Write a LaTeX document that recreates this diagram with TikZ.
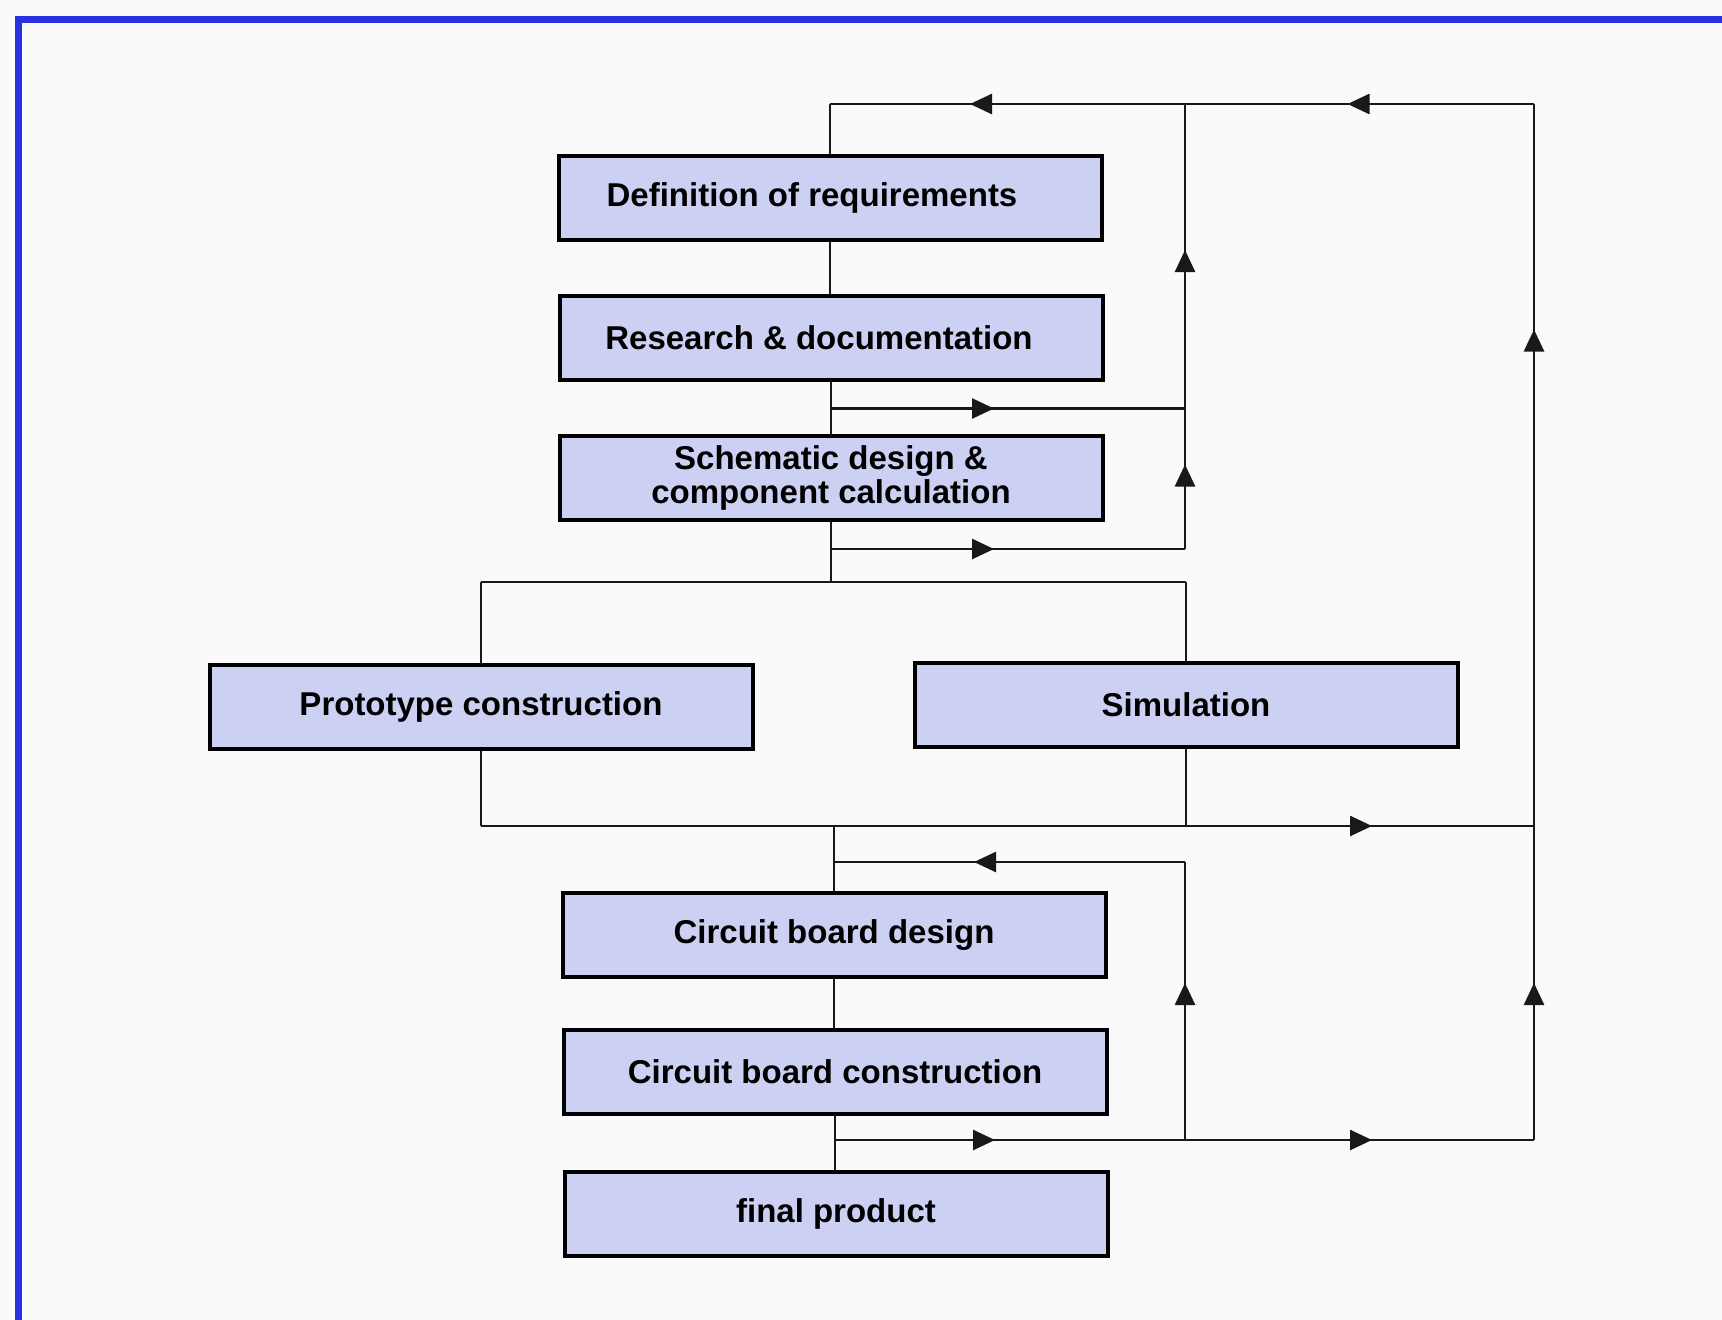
\documentclass[tikz,border=0pt]{standalone}
\usepackage{fontspec}
\setmainfont{Liberation Sans}
\usetikzlibrary{arrows.meta,decorations.markings}
\definecolor{boxfill}{RGB}{204,208,242}
\definecolor{frameblue}{RGB}{40,50,225}
\definecolor{paper}{RGB}{250,250,250}
\tikzset{
  stage/.style={draw=black, line width=4pt, fill=boxfill, minimum width=543pt,
    minimum height=84pt, inner sep=0pt, align=center,
    font=\fontsize{33}{34}\selectfont\bfseries},
  link/.style={line width=2.6pt, draw=black!90},
  tipat/.style={postaction={decorate}, decoration={markings,
    mark=at position #1 with {\arrow{Triangle[length=22pt,width=20pt]}}}},
}
\begin{document}
\begin{tikzpicture}[x=1pt,y=-1pt]
\fill[paper] (0,0) rectangle (1722,1320);
\useasboundingbox (0,0) rectangle (1722,1320);
\draw[frameblue, line width=7pt] (18,1320) -- (18,19) -- (1722,19);

% boxes
\node[stage] (req) at (830,198) {Definition of requirements\hspace*{36pt}};
\node[stage] (res) at (831,338) {Research \& documentation\hspace*{24pt}};
\node[stage] (sch) at (831,478) {Schematic design \&\\component calculation};
\node[stage] (pro) at (481,707) {Prototype construction};
\node[stage] (sim) at (1186,705) {Simulation};
\node[stage] (cbd) at (834,935) {Circuit board design};
\node[stage] (cbc) at (835,1072) {Circuit board construction};
\node[stage] (fin) at (836,1214) {final product};

% junction coordinates
\coordinate (J1t) at (830,104);
\coordinate (T2) at (1185,104);
\coordinate (T3) at (1534,104);
\coordinate (b2) at (831,408.5);
\coordinate (r1) at (1185,408.5);
\coordinate (b3) at (831,549);
\coordinate (r2) at (1185,549);
\coordinate (sp) at (831,582);
\coordinate (spL) at (481,582);
\coordinate (spR) at (1186,582);
\coordinate (mL) at (481,826);
\coordinate (mR) at (1186,826);
\coordinate (mC) at (834,826);
\coordinate (q1) at (1534,826);
\coordinate (r4) at (1185,862);
\coordinate (c6) at (834,862);
\coordinate (c7) at (835,1140);
\coordinate (r3) at (1185,1140);
\coordinate (q2) at (1534,1140);

% main flow
\draw[link] (req.south) -- (req.south |- res.north);
\draw[link] (res.south) -- (res.south |- sch.north);
\draw[link] (sch.south) -- (sp);
\draw[link] (spL) -- (spR);
\draw[link] (spL) -- (pro.north);
\draw[link] (spR) -- (sim.north);
\draw[link] (pro.south) -- (mL);
\draw[link] (sim.south) -- (mR);
\draw[link] (mC) -- (cbd.north);
\draw[link] (cbd.south) -- (cbd.south |- cbc.north);
\draw[link] (cbc.south) -- (cbc.south |- fin.north);

% inner feedback
\draw[link, tipat=163pt] (b2) -- (r1);
\draw[link, tipat=163pt] (b3) -- (r2);
\draw[link, tipat=84.5pt] (r2) -- (r1);
\draw[link, tipat=158.5pt] (r1) -- (T2);
\draw[link, tipat=215pt] (T2) -- (J1t);
\draw[link] (J1t) -- (req.north);

% outer loop
\draw[link, tipat=186.5pt] (T3) -- (T2);
\draw[link, tipat=891pt] (mL) -- (q1);
\draw[link, tipat=160pt] (c7) -- (r3);
\draw[link, tipat=187pt] (r3) -- (q2);
\draw[link, tipat=157pt] (q2) -- (q1);
\draw[link, tipat=496.5pt] (q1) -- (T3);

% lower feedback
\draw[link, tipat=157pt] (r3) -- (r4);
\draw[link, tipat=211pt] (r4) -- (c6);
\end{tikzpicture}
\end{document}
